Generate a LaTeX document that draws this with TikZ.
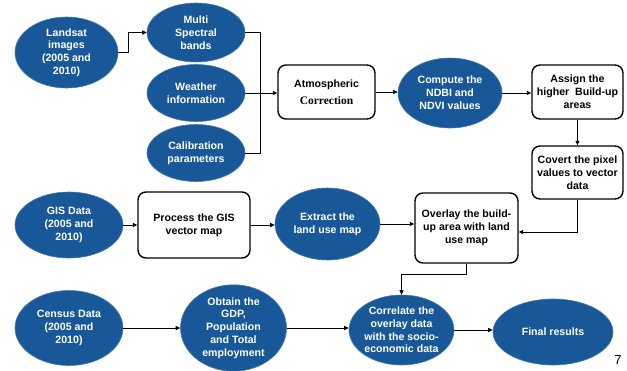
\documentclass[tikz,border=0pt]{standalone}
\usepackage{fontspec}
\setmainfont{Liberation Sans}
\newfontfamily\serifb{Liberation Serif}
\newfontfamily\sansb{Liberation Sans}
\usetikzlibrary{arrows.meta,shapes.geometric}
\definecolor{ellblue}{RGB}{24,88,152}
\tikzset{
  ell/.style={ellipse, fill=ellblue, draw=ellblue!80!white, line width=0.6pt, text=white, align=center, inner sep=0pt, font=\fontsize{10.6}{12.8}\selectfont\bfseries},
  rbox/.style={rectangle, rounded corners=8pt, draw=black, line width=1.4pt, fill=white, align=center, inner sep=0pt, font=\fontsize{10.6}{13}\selectfont\bfseries},
  conn/.style={draw=black, line width=0.9pt},
  arr/.style={conn, -{Triangle[length=4.5pt,width=4pt]}}
}
\begin{document}
\begin{tikzpicture}[x=1pt,y=-1pt]
\useasboundingbox[fill=white] (0,0) rectangle (627,370);
% top row
\node[ell, minimum width=103pt, minimum height=71pt] (L) at (66.5,52.5) {Landsat\\images\\(2005 and\\2010)};
\node[ell, minimum width=98pt, minimum height=59pt] (M) at (196,32.5) {Multi\\Spectral\\bands};
\node[ell, minimum width=98pt, minimum height=57pt] (W) at (196,93) {Weather\\information};
\node[ell, minimum width=98pt, minimum height=57pt] (C) at (196,153) {Calibration\\parameters};
\node[rbox, minimum width=97pt, minimum height=54pt] (A) at (326.5,92) {{\sansb\bfseries Atmospheric}\\[4pt]{\serifb\fontsize{11.5}{13}\selectfont\bfseries Correction}};
\node[ell, minimum width=104pt, minimum height=70pt] (CN) at (450,93) {Compute the\\NDBI and\\NDVI values};
\node[rbox, minimum width=91pt, minimum height=54pt] (AS) at (577.5,92) {Assign the\\higher\ \ Build-up\\areas};
\node[rbox, minimum width=91pt, minimum height=53pt] (CV) at (577.5,172.5) {Covert the pixel\\values to vector\\data};
% middle row
\node[ell, minimum width=108pt, minimum height=66pt] (G) at (69,225) {GIS Data\\(2005 and\\2010)};
\node[rbox, minimum width=112pt, minimum height=66pt] (P) at (194,225) {Process the GIS\\vector map};
\node[ell, minimum width=105pt, minimum height=72pt] (E) at (327.5,224) {Extract the\\land use map};
\node[rbox, minimum width=103pt, minimum height=70pt] (O) at (466.5,228) {Overlay the build-\\up area with land\\use map};
% bottom row
\node[ell, minimum width=108pt, minimum height=75pt] (CS) at (69,328) {Census Data\\(2005 and\\2010)};
\node[ell, minimum width=106pt, minimum height=72pt] (OB) at (233.5,328) {Obtain the\\GDP,\\Population\\and Total\\employment};
\node[ell, minimum width=93pt, minimum height=70pt] (CO) at (401.5,330) {Correlate the\\overlay data\\with the socio-\\economic data};
\node[ell, minimum width=120pt, minimum height=66pt] (F) at (553,332) {Final results};
\node[font=\fontsize{13}{15}\selectfont] (pg) at (618,360) {7};
% connectors
\coordinate (j) at (260,93);
\draw[arr] (L.east) -- ++(10,0) |- (M.west);
\draw[conn] (M.east) -| (j);
\draw[conn] (C.east) -| (j);
\draw[arr] (W.east) -- (W.east -| A.west);
\draw[arr] (A.east) -- (A.east -| CN.west);
\draw[arr] (CN.east) -- (CN.east -| AS.west);
\draw[arr] (AS.south) -- (CV.north);
\draw[arr] (CV.south) |- ([yshift=-4pt]O.east);
\draw[arr] (G.east) -- (G.east -| P.west);
\draw[arr] (P.east) -- (P.east -| E.west);
\draw[arr] (E.east) -- (E.east -| O.west);
\draw[arr] (O.south) -- ++(0,11) -| (CO.north);
\draw[arr] (CS.east) -- (CS.east -| OB.west);
\draw[arr] (OB.east) -- (OB.east -| CO.west);
\draw[arr] (CO.east) -- (CO.east -| F.west);
\end{tikzpicture}
\end{document}
